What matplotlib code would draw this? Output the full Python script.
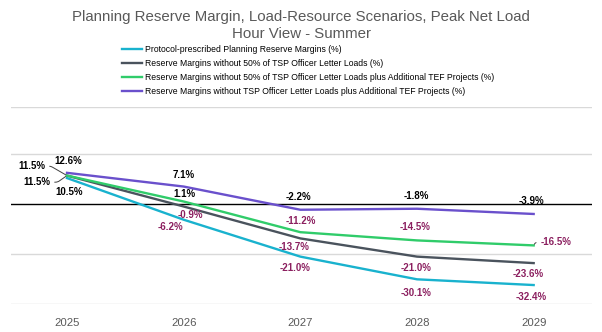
import matplotlib.pyplot as plt

plt.rcParams['font.family'] = ['Liberation Sans', 'DejaVu Sans']

# reserve margin scenarios, % by year
years = ['2025', '2026', '2027', '2028', '2029']
protocol = [10.5, -6.2, -21.0, -30.1, -32.4]
without_50 = [11.5, -0.9, -13.7, -21.0, -23.6]
without_50_tef = [11.5, 1.1, -11.2, -14.5, -16.5]
without_all_tef = [12.6, 7.1, -2.2, -1.8, -3.9]

series_names = [
    'Protocol-prescribed Planning Reserve Margins (%)',
    'Reserve Margins without 50% of TSP Officer Letter Loads (%)',
    'Reserve Margins without 50% of TSP Officer Letter Loads plus Additional TEF Projects (%)',
    'Reserve Margins without TSP Officer Letter Loads plus Additional TEF Projects (%)',
]

colours = ['#19B2CE', '#4A535D', '#30CC6A', '#6A50CC']
neg_colours = ['#8B1F5F', '#8B1F5F', '#8B1F5F', 'black']

# label offsets in pixels from each point
offsets = [
    [(2, -14), (-13, -7.5), (-5.5, -11), (-1, -14), (-2, -12)],
    [(-30, -6.6), (7, -9), (-6.5, -9), (-1, -11.7), (-5, -11)],
    [(-35, 9.4), (1, 8), (0.5, 11), (-2, 13), (22, 3)],
    [(1, 11.6), (0, 12), (-1.5, 12.5), (-1, 12.5), (-2, 12.7)],
]
leaders = {(1, 0): 215, (2, 0): 150, (2, 4): 60}

fig = plt.figure(figsize=(6.02, 3.32), dpi=100)
ax = fig.add_axes([11 / 602, 1 - 304 / 332, 581 / 602, 197 / 332])

x = list(range(len(years)))
all_series = [protocol, without_50, without_50_tef, without_all_tef]
for i, vals in enumerate(all_series):
    ax.plot(x, vals, color=colours[i], lw=1.7, label=series_names[i], zorder=3)
    for j, v in enumerate(vals):
        dx, dy = offsets[i][j]
        col = 'black' if v >= 0 else neg_colours[i]
        kw = {}
        if (i, j) in leaders:
            kw['arrowprops'] = dict(arrowstyle='-', color='#404040', lw=0.7,
                                    shrinkA=1, shrinkB=1,
                                    connectionstyle='angle,angleA=0,angleB=%d,rad=2' % leaders[(i, j)])
        ax.annotate('%.1f%%' % v, (j, v), xytext=(dx, dy), textcoords='offset pixels',
                    ha='center', va='center', fontsize=7, fontweight='bold', color=col, **kw)

ax.axhline(0, color='black', lw=1, zorder=2)
ax.set_xlim(-0.48, 4.5)
ax.set_ylim(-40, 39)
ax.set_yticks([-40, -20, 20, 39])
ax.yaxis.grid(True, color='#D9D9D9', lw=1)
ax.set_axisbelow(True)
ax.set_xticks(x)
ax.set_xticklabels(years, fontsize=8.2, color='#595959')
ax.tick_params(axis='x', length=0, pad=10)
ax.tick_params(axis='y', length=0, labelleft=False)
for s in ax.spines.values():
    s.set_visible(False)

fig.legend(loc='upper left', bbox_to_anchor=(122 / 602, 1 - 45 / 332), frameon=False,
           fontsize=6.2, handlelength=2.3, handletextpad=0.35, labelspacing=0.58,
           borderpad=0, borderaxespad=0)

fig.text(0.5, 1 - 25.5 / 332, 'Planning Reserve Margin, Load-Resource Scenarios, Peak Net Load\nHour View - Summer',
         ha='center', va='center', fontsize=10.8, color='#595959', linespacing=1.2)

fig.savefig('out.png', dpi=100)
